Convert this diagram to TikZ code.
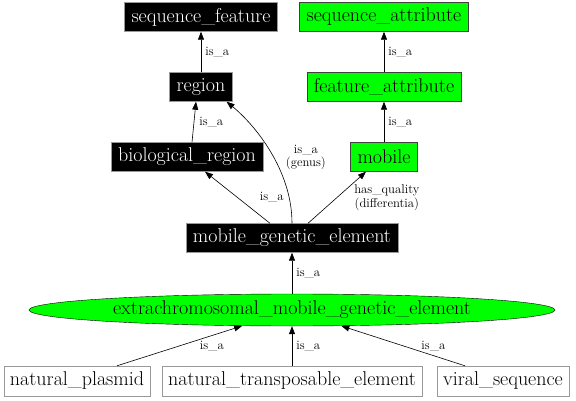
\documentclass[tikz,border=0pt]{standalone}
\usepackage{tikz}
\usetikzlibrary{shapes,arrows.meta,positioning}

\tikzset{
  nodefont/.style={font=\fontsize{20}{22}\selectfont},
  term/.style={draw=gray!80, fill=black, text=white, rectangle, nodefont, minimum height=29pt, inner xsep=7pt, inner ysep=0pt},
  attr/.style={draw=black!75, fill=green, rectangle, nodefont, minimum height=29pt, inner xsep=7pt, inner ysep=0pt},
  leaf/.style={draw=gray!80, fill=white, rectangle, nodefont, minimum height=30pt, inner xsep=6pt, inner ysep=0pt},
  edge/.style={-{Triangle[length=8pt,width=6pt]}, line width=0.6pt},
  lbl/.style={font=\fontsize{12.7}{13.5}\selectfont, inner sep=1pt, align=center}
}

\begin{document}
\begin{tikzpicture}[x=1pt, y=-1pt]
    \useasboundingbox (0,0) rectangle (576,401);

    \node (seqfeature) [term] at (201,17) {sequence\_feature};
    \node (seqattr) [attr] at (384,17) {sequence\_attribute};
    \node (region) [term] at (201,87) {region};
    \node (featattr) [attr] at (384,87) {feature\_attribute};
    \node (bioregion) [term] at (187,157) {biological\_region};
    \node (mobile) [attr] at (384,157) {mobile};
    \node (mge) [term] at (292,238) {mobile\_genetic\_element};
    \node (emge) [draw, ellipse, fill=green, nodefont, minimum width=526pt, minimum height=32pt, inner sep=0pt] at (292,310) {extrachromosomal\_mobile\_genetic\_element};
    \node (plasmid) [leaf] at (77,381) {natural\_plasmid};
    \node (transposable) [leaf] at (292,381) {natural\_transposable\_element};
    \node (viral) [leaf] at (503,381) {viral\_sequence};

    \draw[edge] (region) -- node[lbl, right=3pt] {is\_a} (seqfeature);
    \draw[edge] (featattr) -- node[lbl, right=3pt] {is\_a} (seqattr);
    \draw[edge] ([xshift=5pt]bioregion.north) -- node[lbl, right=4pt] {is\_a} ([xshift=-5pt]region.south);
    \draw[edge] (mobile) -- node[lbl, right=3pt] {is\_a} (featattr);
    \draw[edge] ([xshift=-22pt]mge.north) -- node[lbl, right=21pt] {is\_a} ([xshift=18pt]bioregion.south);
    \draw[edge] (mge.north) .. controls (292,170) and (255,125) .. node[lbl, pos=0.45, right=11pt] {is\_a\\(genus)} ([xshift=-6pt]region.south east);
    \draw[edge] ([xshift=16pt]mge.north) -- node[lbl, right=16pt] {has\_quality\\(differentia)} ([xshift=-18pt]mobile.south);
    \draw[edge] (emge) -- node[lbl, right=3pt] {is\_a} (mge);
    \draw[edge] ([xshift=40pt]plasmid.north) -- node[lbl, right=19pt] {is\_a} (emge);
    \draw[edge] (transposable) -- node[lbl, right=3pt] {is\_a} (emge);
    \draw[edge] ([xshift=-38pt]viral.north) -- node[lbl, right=17pt] {is\_a} (emge);
\end{tikzpicture}
\end{document}
